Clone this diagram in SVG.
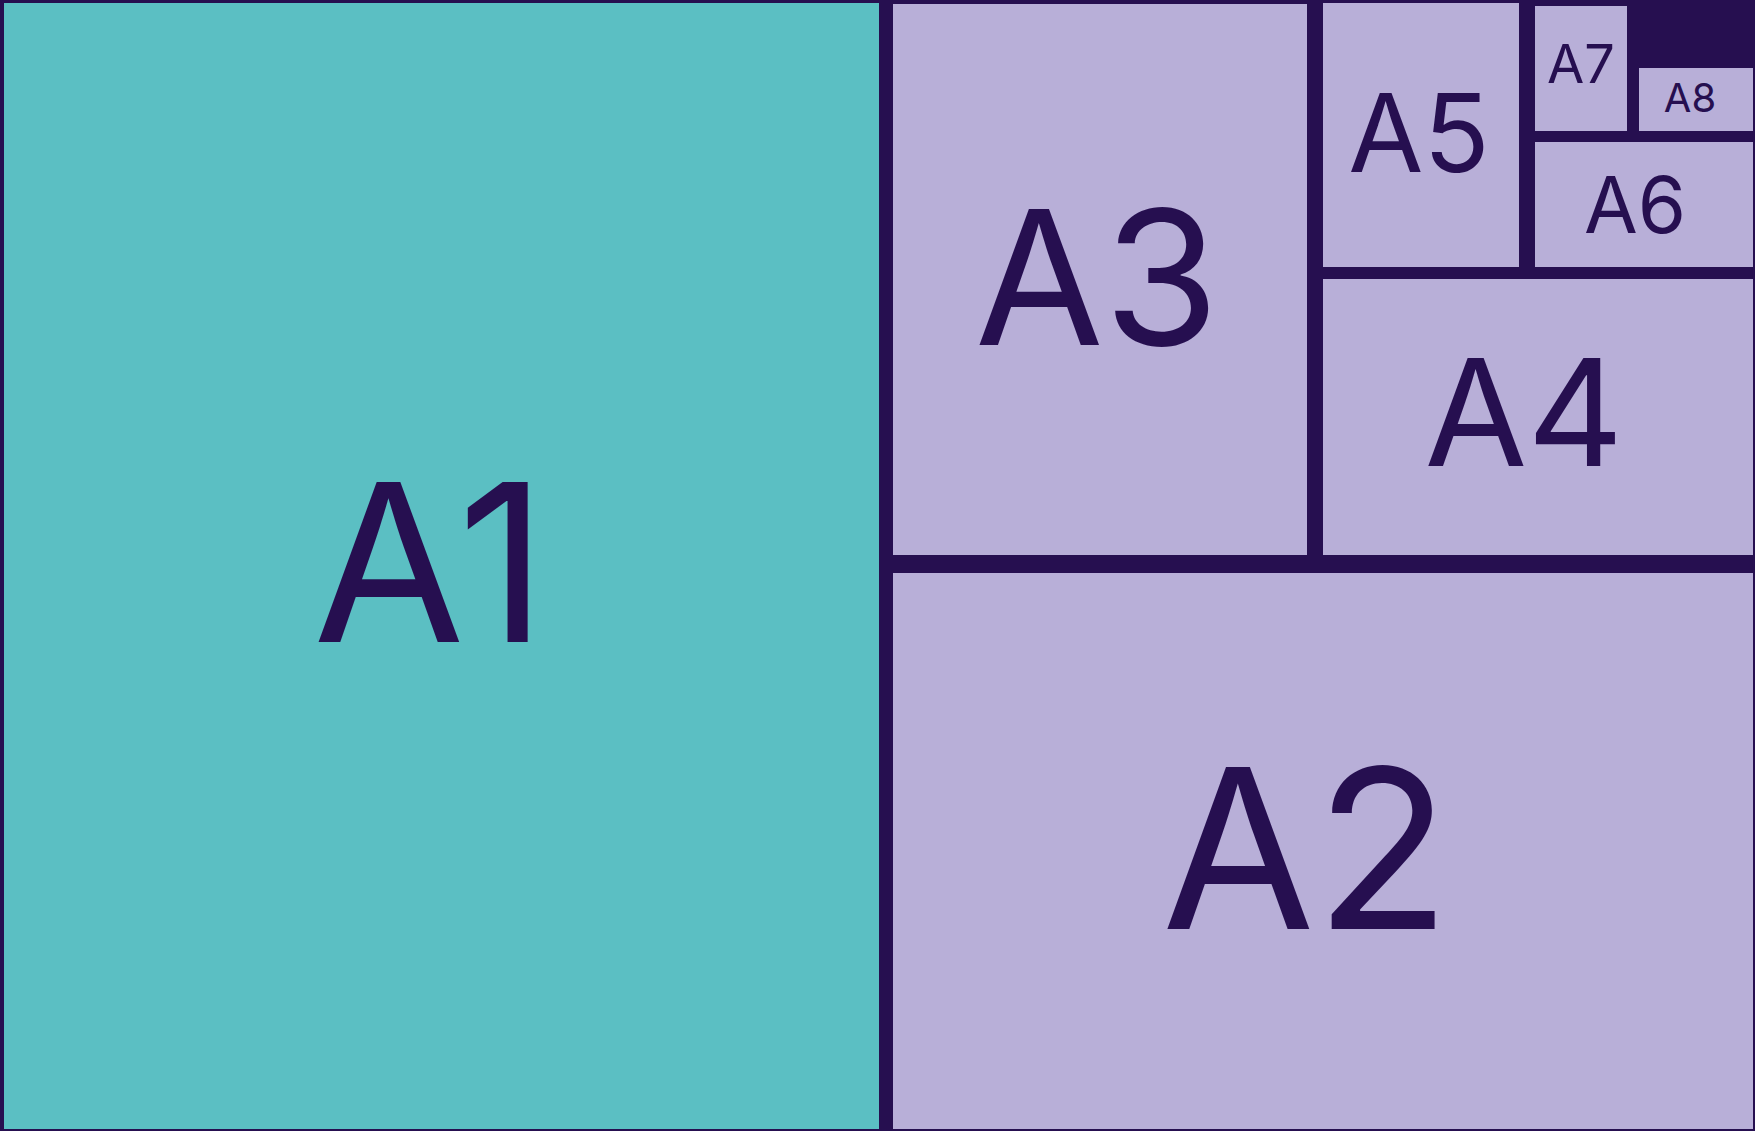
<svg xmlns="http://www.w3.org/2000/svg" width="1755" height="1131" viewBox="0 0 1755 1131">
  <style>
    .teal { fill: #5bbfc3; }
    .lav { fill: #b8afd8; }
    .lbl { fill: #260f50; font-family: Inter, "Liberation Sans", sans-serif; text-anchor: middle; }
  </style>
  <rect x="0" y="0" width="1755" height="1131" fill="#260f50"/>
  <g id="A1">
    <rect class="teal" x="4" y="3" width="875" height="1126"/>
    <text class="lbl" x="430" y="642" font-size="220">A1</text>
  </g>
  <g id="A2">
    <rect class="lav" x="893" y="573" width="860" height="556"/>
    <text class="lbl" x="1306" y="929" font-size="222">A2</text>
  </g>
  <g id="A3">
    <rect class="lav" x="893" y="4" width="414" height="551"/>
    <text class="lbl" x="1097" y="345" font-size="187">A3</text>
  </g>
  <g id="A4">
    <rect class="lav" x="1323" y="279" width="430" height="276"/>
    <text class="lbl" x="1524" y="466" font-size="149">A4</text>
  </g>
  <g id="A5">
    <rect class="lav" x="1323" y="3" width="196" height="264"/>
    <text class="lbl" x="1419" y="172" font-size="109">A5</text>
  </g>
  <g id="A6">
    <rect class="lav" x="1535" y="142" width="218" height="125"/>
    <text class="lbl" x="1635" y="233" font-size="78">A6</text>
  </g>
  <g id="A7">
    <rect class="lav" x="1535" y="6" width="92" height="125"/>
    <text class="lbl" x="1581" y="83" font-size="54">A7</text>
  </g>
  <g id="A8">
    <rect class="lav" x="1639" y="68" width="114" height="63"/>
    <text class="lbl" x="1690" y="112" font-size="40">A8</text>
  </g>
  <g id="connectors"/>
</svg>
